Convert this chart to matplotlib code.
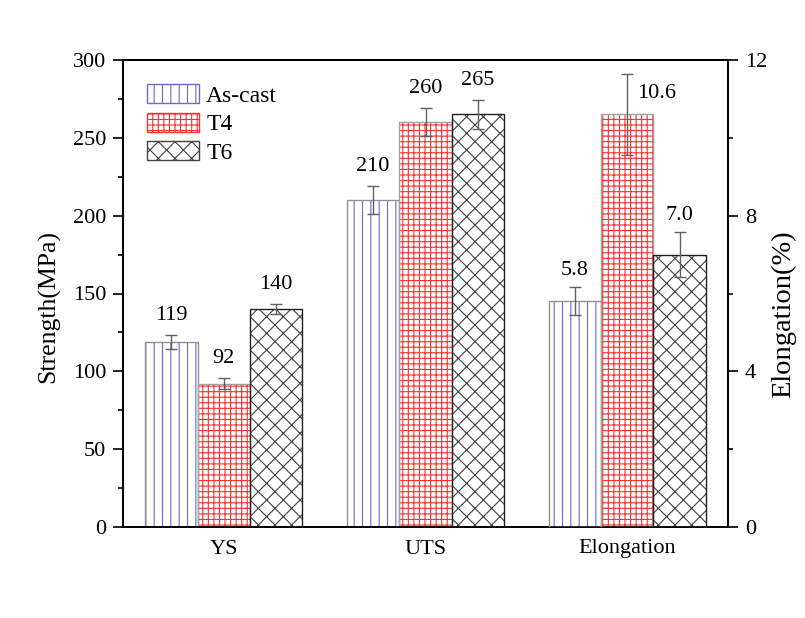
"""Strength and elongation of the alloy in three heat-treatment states."""
import matplotlib
matplotlib.use("Agg")
import matplotlib.pyplot as plt                                    # noqa: E402
import numpy as np                                                 # noqa: E402
from matplotlib.patches import Patch                               # noqa: E402
from matplotlib.ticker import MultipleLocator                      # noqa: E402

plt.rcParams["font.family"] = ["Liberation Serif", "DejaVu Serif"]
plt.rcParams["hatch.linewidth"] = 0.8

GROUPS = ["YS", "UTS", "Elongation"]
STATES = ["As-cast", "T4", "T6"]
STRENGTH = {"As-cast": [119, 210], "T4": [92, 260], "T6": [140, 265]}
STRENGTH_ERR = {"As-cast": [4.5, 9], "T4": [3.5, 9], "T6": [3, 9.5]}
ELONG = {"As-cast": 5.8, "T4": 10.6, "T6": 7.0}
ELONG_ERR = {"As-cast": 0.36, "T4": 1.04, "T6": 0.57}
STRENGTH_LABELS = {"As-cast": ["119", "210"], "T4": ["92", "260"], "T6": ["140", "265"]}
ELONG_LABELS = {"As-cast": "5.8", "T4": "10.6", "T6": "7.0"}

STYLE = {
    "As-cast": dict(hatch="||", hcol="#6a6ac8", ecol="#909090"),
    "T4": dict(hatch="+++", hcol="#ff3030", ecol="#a0a0a0"),
    "T6": dict(hatch="xx", hcol="#404040", ecol="#202020"),
}
FS = 16

fig = plt.figure(figsize=(8.05, 6.18), dpi=100)
ax = fig.add_axes([123 / 805, 1 - 527 / 618, 605 / 805, 467 / 618])
ax2 = ax.twinx()


def value_label(a, xv, top, text, dx=0, dy=13):
    a.annotate(text, (xv, top), xytext=(dx, dy), textcoords="offset points",
               ha="center", va="center", fontsize=FS)


x = np.arange(1, len(GROUPS) + 1)
w = 0.26
for i, st in enumerate(STATES):
    s = STYLE[st]
    off = (i - 1) * w
    # strength bars on left axis
    xs = x[:2] + off
    ax.bar(xs, STRENGTH[st], w, color="white", edgecolor=s["hcol"],
           hatch=s["hatch"], linewidth=0, zorder=2)
    ax.bar(xs, STRENGTH[st], w, fill=False, edgecolor=s["ecol"],
           linewidth=1.0, zorder=3)
    ax.errorbar(xs, STRENGTH[st], yerr=STRENGTH_ERR[st], fmt="none",
                ecolor="#606060", elinewidth=1, capsize=4, capthick=1, zorder=4)
    for xi, v, e, lab in zip(xs, STRENGTH[st], STRENGTH_ERR[st],
                             STRENGTH_LABELS[st]):
        value_label(ax, xi, v + e, lab, dy=14)
    # elongation bar on right axis
    xe = x[2] + off
    ax2.bar(xe, ELONG[st], w, color="white", edgecolor=s["hcol"],
            hatch=s["hatch"], linewidth=0, zorder=2)
    ax2.bar(xe, ELONG[st], w, fill=False, edgecolor=s["ecol"],
            linewidth=1.0, zorder=3)
    ax2.errorbar(xe, ELONG[st], yerr=ELONG_ERR[st], fmt="none",
                 ecolor="#606060", elinewidth=1, capsize=4, capthick=1, zorder=4)
    if st == "T4":
        # this label sits beside the tall error bar, not above it
        value_label(ax2, xe, ELONG[st], ELONG_LABELS[st], dx=21, dy=15)
    else:
        value_label(ax2, xe, ELONG[st] + ELONG_ERR[st], ELONG_LABELS[st], dy=12)

ax.set_xlim(0.5, 3.5)
ax.set_ylim(0, 300)
ax2.set_ylim(0, 12)
ax.set_xticks(x)
ax.set_xticklabels(GROUPS)
ax.yaxis.set_major_locator(MultipleLocator(50))
ax.yaxis.set_minor_locator(MultipleLocator(25))
ax2.yaxis.set_major_locator(MultipleLocator(4))
ax2.yaxis.set_minor_locator(MultipleLocator(2))
ax.tick_params(axis="x", length=0, labelsize=FS, pad=9)
for a in (ax, ax2):
    a.tick_params(axis="y", which="major", direction="out", length=7,
                  labelsize=FS, width=1.2, pad=5)
    a.tick_params(axis="y", which="minor", direction="out", length=3.5,
                  width=1.2)
    for sp in a.spines.values():
        sp.set_linewidth(1.3)
ax.set_ylabel("Strength(MPa)", fontsize=18.5)
ax2.set_ylabel("Elongation(%)", fontsize=20.5, rotation=90)
ax.yaxis.set_label_coords(-63 / 605, 0.473)
ax2.yaxis.set_label_coords(1 + 43 / 605, 0.455)

handles = [Patch(facecolor="white", edgecolor=STYLE[st]["hcol"],
                 hatch=STYLE[st]["hatch"], linewidth=1.0) for st in STATES]
ax.legend(handles, STATES, loc="upper left", bbox_to_anchor=(0.04, 0.948),
          frameon=False, fontsize=17, handlelength=2.2, handleheight=0.85,
          labelspacing=0.25, handletextpad=0.3, borderaxespad=0.0,
          borderpad=0.0)

fig.savefig("out.png", dpi=100)
